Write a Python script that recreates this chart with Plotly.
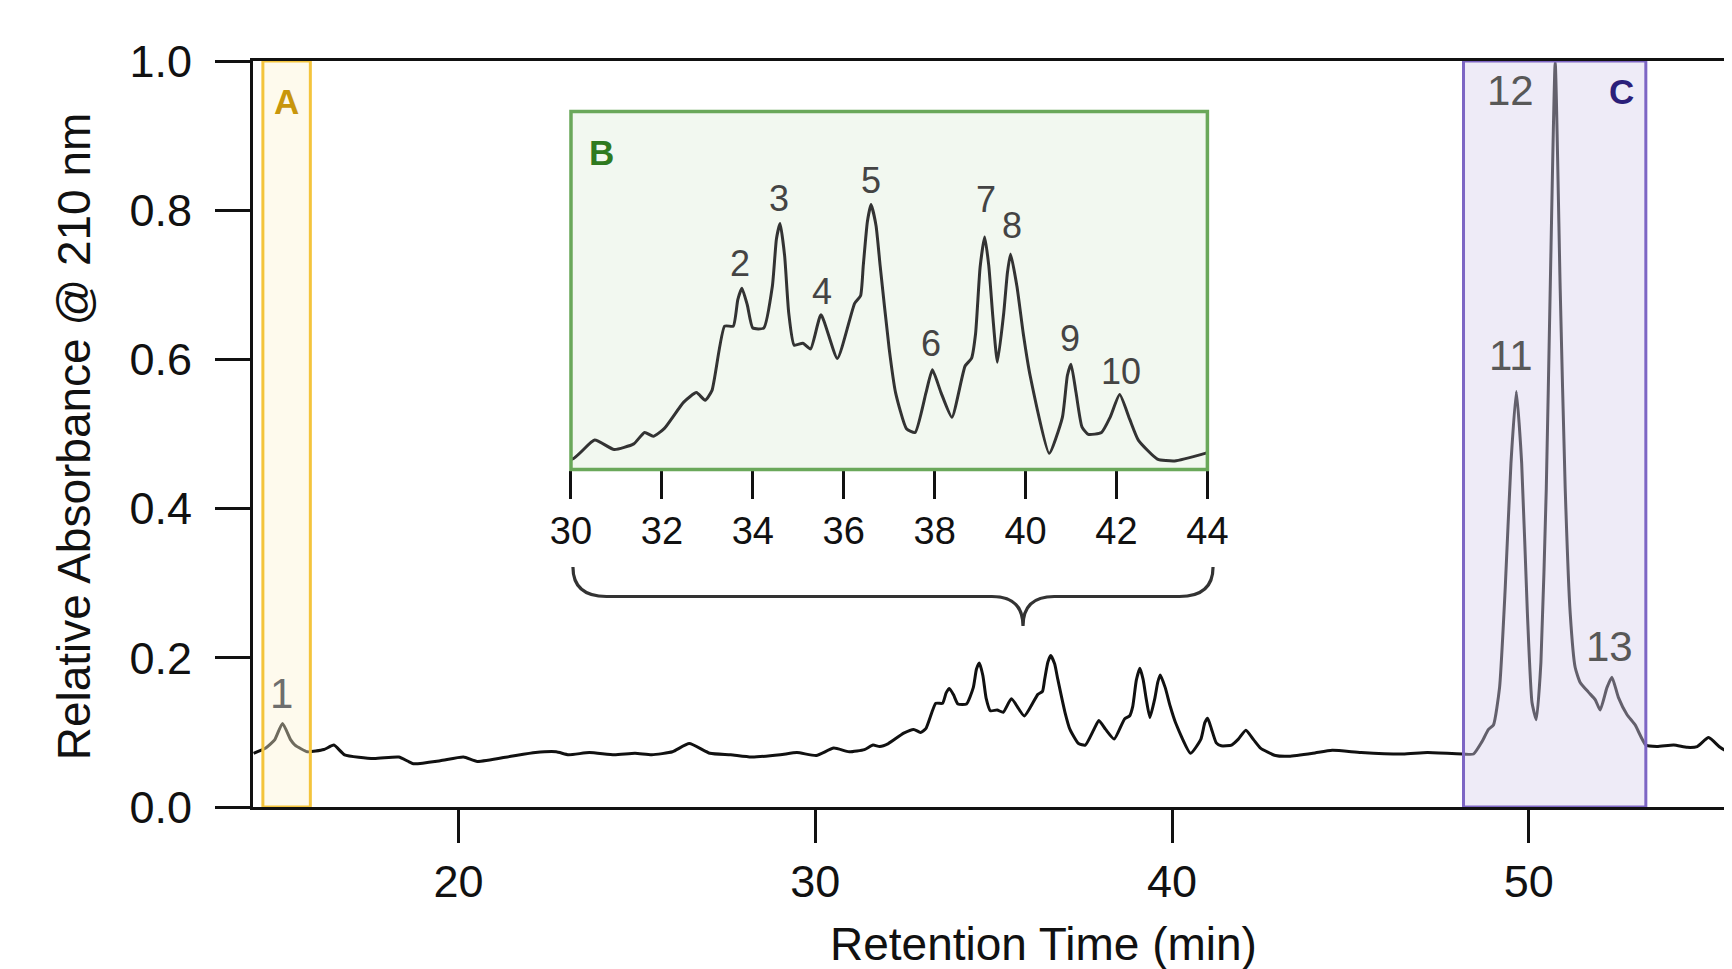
import plotly.graph_objects as go

# Chromatogram (retention time in min, relative absorbance)
TIME = [14.26, 14.6, 14.85, 15.07, 15.3, 15.42, 15.77, 16.23, 16.51, 16.81, 17.63, 18.33, 18.74,
        19.49, 20.14, 20.53, 21.47, 22.16, 22.74, 23.09, 23.67, 24.37, 24.95, 25.42, 26.0, 26.47,
        27.05, 27.63, 28.21, 29.02, 29.49,
        30.03, 30.52, 30.95, 31.38, 31.62, 31.81, 32.05, 32.48, 32.76, 32.95, 33.10, 33.38, 33.57,
        33.67, 33.76, 33.88, 34.0, 34.24, 34.43, 34.52, 34.60, 34.70, 34.79, 34.91, 35.10, 35.27,
        35.50, 35.86, 36.24, 36.37, 36.43, 36.52, 36.60, 36.71, 36.80, 37.0, 37.14, 37.38, 37.57,
        37.81, 37.95, 38.14, 38.38, 38.67, 38.81, 38.9, 39.0, 39.10, 39.19, 39.28, 39.38, 39.52,
        39.60, 39.67, 39.81, 39.95, 40.10, 40.52, 40.81, 40.92, 41.00, 41.11, 41.24, 41.38, 41.67,
        41.86, 42.07, 42.29, 42.48, 42.90, 43.28, 43.95,
        44.49, 45.30, 46.47, 47.16, 48.17, 48.45, 48.68, 48.87, 49.01, 49.18, 49.34, 49.50, 49.65,
        49.80, 49.96, 50.09, 50.21, 50.34, 50.49, 50.60, 50.74, 50.88, 51.02, 51.16, 51.30, 51.44,
        51.67, 51.86, 52.00, 52.19, 52.33, 52.51, 52.75, 52.98, 53.28, 53.59, 54.06, 54.44, 54.72,
        55.04, 55.36, 55.70]
ABS = [0.072, 0.079, 0.090, 0.112, 0.090, 0.083, 0.074, 0.077, 0.083, 0.070, 0.065, 0.067, 0.058,
       0.062, 0.067, 0.061, 0.068, 0.073, 0.074, 0.070, 0.073, 0.070, 0.072, 0.070, 0.074, 0.085,
       0.072, 0.070, 0.067, 0.070, 0.073,
       0.069, 0.079, 0.074, 0.077, 0.083, 0.081, 0.085, 0.099, 0.104, 0.100, 0.105, 0.139, 0.139,
       0.153, 0.159, 0.150, 0.138, 0.138, 0.160, 0.185, 0.193, 0.176, 0.146, 0.129, 0.130, 0.127,
       0.145, 0.122, 0.151, 0.155, 0.171, 0.194, 0.203, 0.192, 0.171, 0.127, 0.104, 0.085, 0.083,
       0.104, 0.116, 0.104, 0.091, 0.118, 0.122, 0.135, 0.170, 0.186, 0.171, 0.144, 0.120, 0.146,
       0.167, 0.177, 0.160, 0.135, 0.113, 0.072, 0.091, 0.113, 0.119, 0.104, 0.086, 0.082, 0.083,
       0.091, 0.103, 0.090, 0.079, 0.069, 0.068, 0.072,
       0.076, 0.073, 0.071, 0.073, 0.071, 0.071, 0.087, 0.104, 0.110, 0.160, 0.294, 0.461, 0.557,
       0.461, 0.260, 0.140, 0.117, 0.194, 0.427, 0.694, 0.998, 0.694, 0.427, 0.260, 0.187, 0.167,
       0.154, 0.144, 0.130, 0.160, 0.174, 0.147, 0.124, 0.110, 0.083, 0.081, 0.083, 0.080, 0.081,
       0.093, 0.080, 0.070]

MAIN_XTICKS = [20, 30, 40, 50]
MAIN_YTICKS = [0.0, 0.2, 0.4, 0.6, 0.8, 1.0]
INSET_XTICKS = [30, 32, 34, 36, 38, 40, 42, 44]
INSET_RANGE = [30, 44]

MAIN_PEAKS = ["1", "11", "12", "13"]
MAIN_PEAK_T = [15.05, 49.50, 49.50, 52.26]
MAIN_PEAK_V = [0.152, 0.605, 0.960, 0.2155]
INSET_PEAKS = ["2", "3", "4", "5", "6", "7", "8", "9", "10"]
INSET_PEAK_T = [33.72, 34.58, 35.52, 36.61, 37.93, 39.14, 39.70, 40.98, 42.10]
INSET_PEAK_V = [0.172, 0.2064, 0.157, 0.2157, 0.1297, 0.2058, 0.1918, 0.1326, 0.1152]

FONT = "Liberation Sans, Arial, Helvetica, sans-serif"

XD2 = [0.2150, 0.6453]
YD2 = [0.4524, 0.9322]

inset_t = [t for t in TIME if INSET_RANGE[0] - 0.6 <= t <= INSET_RANGE[1] + 0.6]
inset_v = [v for t, v in zip(TIME, ABS) if INSET_RANGE[0] - 0.6 <= t <= INSET_RANGE[1] + 0.6]

fig = go.Figure()
fig.add_trace(go.Scatter(x=TIME, y=ABS, mode="lines", xaxis="x", yaxis="y",
                         line=dict(color="#111111", width=3, shape="spline", smoothing=0.5),
                         hoverinfo="skip", showlegend=False))
fig.add_trace(go.Scatter(x=inset_t, y=inset_v, mode="lines", xaxis="x2", yaxis="y2",
                         line=dict(color="#333333", width=3, shape="spline", smoothing=0.5),
                         hoverinfo="skip", showlegend=False))

shapes = [
    # inset fill
    dict(type="rect", xref="x2 domain", yref="y2 domain", x0=0, x1=1, y0=0, y1=1,
         fillcolor="#f2f8f0", line=dict(width=0), layer="below"),
    # inset border
    dict(type="rect", xref="paper", yref="paper", x0=XD2[0], x1=XD2[1], y0=YD2[0], y1=YD2[1],
         fillcolor="rgba(0,0,0,0)", line=dict(color="#6aa85a", width=3.5), layer="above"),
    # region A
    dict(type="rect", xref="x", yref="y", x0=14.52, x1=15.85, y0=0, y1=1.0,
         fillcolor="rgba(253,242,210,0.40)", line=dict(color="#f4c43c", width=3), layer="above"),
    # region C
    dict(type="rect", xref="x", yref="y", x0=48.17, x1=53.28, y0=0, y1=1.0,
         fillcolor="rgba(214,208,237,0.42)", line=dict(color="#7d66c4", width=3), layer="above"),
    # brace
    dict(type="path", xref="x", yref="y",
         path=("M 23.21,0.3217 Q 23.21,0.2822 24.15,0.2822 L 34.95,0.2822 "
               "Q 35.824,0.2822 35.824,0.2426 Q 35.824,0.2822 36.70,0.2822 "
               "L 40.21,0.2822 Q 41.15,0.2822 41.15,0.3217"),
         line=dict(color="#333333", width=3.2)),
]

annotations = []
for lab, t, v in zip(MAIN_PEAKS, MAIN_PEAK_T, MAIN_PEAK_V):
    annotations.append(dict(x=t, y=v, xref="x", yref="y", text=lab, showarrow=False,
                            xanchor="center", yanchor="middle",
                            font=dict(family=FONT, size=42,
                                      color="#6e6e6e" if lab == "1" else "#585858")))
for lab, t, v in zip(INSET_PEAKS, INSET_PEAK_T, INSET_PEAK_V):
    annotations.append(dict(x=t, y=v, xref="x2", yref="y2", text=lab, showarrow=False,
                            xanchor="center", yanchor="middle",
                            font=dict(family=FONT, size=36, color="#444444")))
annotations += [
    dict(x=15.19, y=0.9456, xref="x", yref="y", text="<b>A</b>", showarrow=False,
         font=dict(family=FONT, size=35, color="#c8960c")),
    dict(x=30.68, y=0.2307, xref="x2", yref="y2", text="<b>B</b>", showarrow=False,
         font=dict(family=FONT, size=35, color="#2f7a1f")),
    dict(x=52.60, y=0.9589, xref="x", yref="y", text="<b>C</b>", showarrow=False,
         font=dict(family=FONT, size=35, color="#2b1f7a")),
    dict(x=0.5348, y=-0.1843, xref="paper", yref="paper", text="Retention Time (min)",
         showarrow=False, xanchor="center", yanchor="middle",
         font=dict(family=FONT, size=46, color="#111111")),
    dict(x=-0.121, y=0.497, xref="paper", yref="paper", text="Relative Absorbance @ 210 nm",
         showarrow=False, xanchor="center", yanchor="middle", textangle=-90,
         font=dict(family=FONT, size=46, color="#111111")),
]

fig.update_layout(
    template="none",
    width=1724, height=961, autosize=False,
    margin=dict(l=245, r=0, t=53, b=162, pad=0, autoexpand=False),
    paper_bgcolor="white", plot_bgcolor="rgba(0,0,0,0)",
    font=dict(family=FONT, color="#111111"),
    shapes=shapes, annotations=annotations,
    xaxis=dict(range=[14.243, 55.695], tickvals=MAIN_XTICKS, ticks="outside", ticklen=33,
               tickwidth=2.5, tickcolor="#111111", showline=True, linewidth=3,
               linecolor="#111111", mirror=True, showgrid=False, zeroline=False,
               automargin=False,
               tickfont=dict(family=FONT, size=45, color="#111111"), domain=[0, 1]),
    yaxis=dict(range=[0, 1.0], tickvals=MAIN_YTICKS, tickformat=".1f", ticks="outside",
               ticklen=35, tickwidth=2.5, tickcolor="#111111", showline=True, linewidth=3,
               linecolor="#111111", showgrid=False, zeroline=False, automargin=False,
               tickfont=dict(family=FONT, size=45, color="#111111"), ticklabelstandoff=14,
               domain=[0, 1]),
    xaxis2=dict(range=INSET_RANGE, tickvals=INSET_XTICKS, ticks="outside", ticklen=28,
                tickwidth=2.5, tickcolor="#111111", showline=False, showgrid=False,
                zeroline=False, anchor="y2", domain=XD2, automargin=False,
                tickfont=dict(family=FONT, size=38, color="#111111")),
    yaxis2=dict(range=[0.0635, 0.252], visible=False, anchor="x2", domain=YD2,
                showgrid=False, zeroline=False, automargin=False),
)

fig.write_html("out.html")
